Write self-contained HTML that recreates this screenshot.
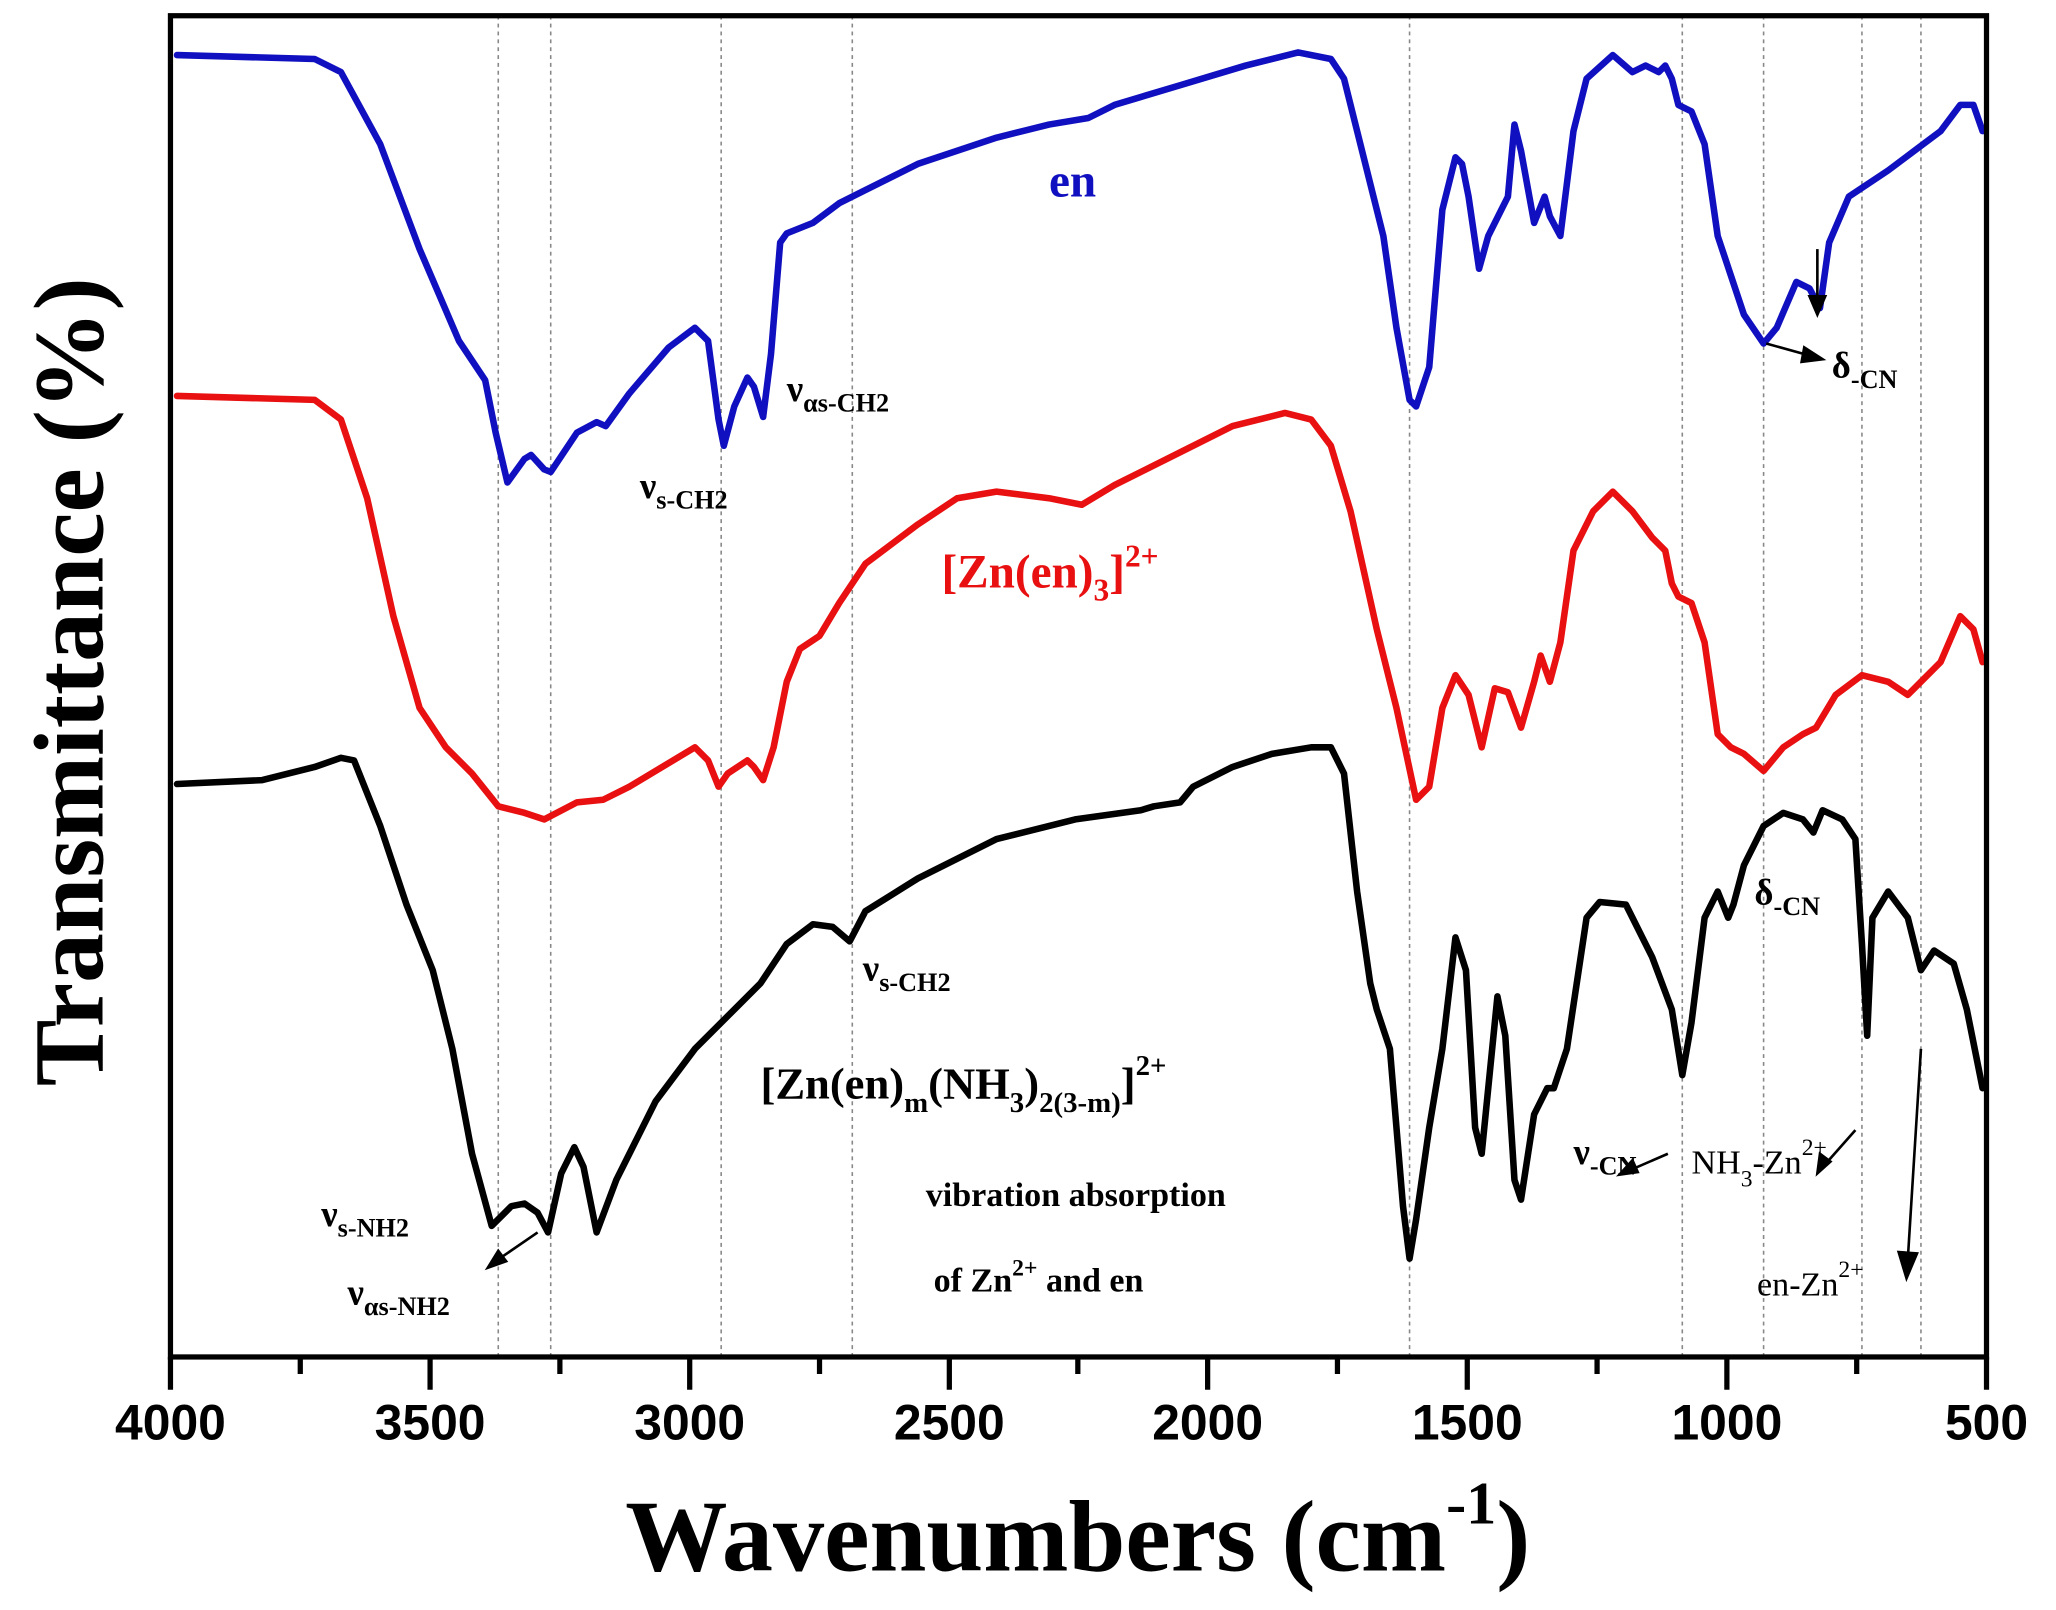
<!DOCTYPE html>
<html><head><style>html,body{margin:0;padding:0;background:#fff}svg{display:block}</style></head>
<body>
<svg width="2056" height="1610" viewBox="0 0 1568 1228" preserveAspectRatio="none" xmlns="http://www.w3.org/2000/svg">
<rect width="1568" height="1228" fill="#fff"/>
<g stroke="#888" stroke-width="1.2" stroke-dasharray="3,3">
<line x1="380" y1="12" x2="380" y2="1035"/><line x1="420" y1="12" x2="420" y2="1035"/>
<line x1="550" y1="12" x2="550" y2="1035"/><line x1="650" y1="12" x2="650" y2="1035"/>
<line x1="1075" y1="12" x2="1075" y2="1035"/><line x1="1283" y1="12" x2="1283" y2="1035"/>
<line x1="1345" y1="12" x2="1345" y2="1035"/><line x1="1420" y1="12" x2="1420" y2="1035"/>
<line x1="1465" y1="12" x2="1465" y2="1035"/>
</g>
<g fill="none" stroke-width="5" stroke-linejoin="round" stroke-linecap="round">
<polyline stroke="#1010c0" points="135,42 240,45 260,55 290,110 320,190 350,260 370,290 378,330 387,368 400,350 405,347 415,358 420,360 440,330 455,322 462,325 480,300 510,265 530,250 540,260 548,320 552,340 560,310 570,288 575,295 582,318 588,270 595,185 600,178 620,170 640,155 660,145 700,125 760,105 800,95 830,90 850,80 900,65 950,50 990,40 1015,45 1025,60 1040,120 1055,180 1065,250 1075,305 1080,310 1090,280 1100,160 1110,120 1115,125 1120,150 1128,205 1135,180 1145,160 1150,150 1155,95 1160,115 1170,170 1178,150 1182,165 1190,180 1200,100 1210,60 1230,42 1245,55 1255,50 1265,55 1270,50 1275,60 1280,80 1290,85 1300,110 1310,180 1330,240 1345,262 1355,250 1370,215 1380,220 1388,235 1395,185 1410,150 1440,130 1460,115 1480,100 1495,80 1505,80 1512,100"/>
<polyline stroke="#e81010" points="135,302 240,305 260,320 280,380 300,470 320,540 340,570 360,590 380,615 400,620 415,625 440,612 460,610 480,600 530,570 540,580 548,600 555,590 570,580 575,585 582,595 590,570 600,520 610,495 625,485 640,460 660,430 700,400 730,380 760,375 800,380 825,385 850,370 900,345 940,325 980,315 1000,320 1015,340 1030,390 1050,480 1065,540 1080,610 1090,600 1100,540 1110,515 1120,530 1130,570 1140,525 1150,528 1160,555 1170,520 1175,500 1182,520 1190,490 1200,420 1215,390 1230,375 1245,390 1260,410 1270,420 1275,445 1280,455 1290,460 1300,490 1310,560 1320,570 1330,575 1345,588 1360,570 1375,560 1385,555 1400,530 1420,515 1440,520 1455,530 1460,525 1480,505 1495,470 1505,480 1512,505"/>
<polyline stroke="#000" points="135,598 200,595 240,585 260,578 270,580 290,630 310,690 330,740 345,800 360,880 375,935 390,920 400,918 410,925 418,940 428,895 438,875 445,890 455,940 470,900 480,880 500,840 530,800 560,770 580,750 600,720 620,705 635,707 648,718 660,695 700,670 760,640 820,625 870,618 880,615 900,612 910,600 940,585 970,575 1000,570 1015,570 1025,590 1035,680 1045,750 1050,770 1060,800 1070,920 1075,960 1080,930 1090,860 1100,800 1110,715 1118,740 1125,860 1130,880 1138,800 1142,760 1148,790 1155,900 1160,915 1170,850 1180,830 1185,830 1195,800 1210,700 1220,688 1240,690 1260,730 1275,770 1283,820 1290,780 1300,700 1310,680 1318,700 1322,690 1330,660 1345,630 1360,620 1375,625 1383,635 1390,618 1405,625 1415,640 1420,720 1424,790 1428,700 1440,680 1455,700 1465,740 1475,725 1490,735 1500,770 1512,830"/>
</g>
<rect x="130" y="12" width="1385" height="1023" fill="none" stroke="#000" stroke-width="4"/>
<g stroke="#000" stroke-width="4">
<line x1="130" y1="1035" x2="130" y2="1060"/><line x1="328" y1="1035" x2="328" y2="1060"/><line x1="526" y1="1035" x2="526" y2="1060"/><line x1="724" y1="1035" x2="724" y2="1060"/><line x1="921" y1="1035" x2="921" y2="1060"/><line x1="1119" y1="1035" x2="1119" y2="1060"/><line x1="1317" y1="1035" x2="1317" y2="1060"/><line x1="1515" y1="1035" x2="1515" y2="1060"/>
<line x1="229" y1="1035" x2="229" y2="1048"/><line x1="427" y1="1035" x2="427" y2="1048"/><line x1="625" y1="1035" x2="625" y2="1048"/><line x1="822" y1="1035" x2="822" y2="1048"/><line x1="1020" y1="1035" x2="1020" y2="1048"/><line x1="1218" y1="1035" x2="1218" y2="1048"/><line x1="1416" y1="1035" x2="1416" y2="1048"/>
</g>
<g font-family="Liberation Sans, sans-serif" font-weight="bold" font-size="38" text-anchor="middle">
<text x="130" y="1098">4000</text><text x="328" y="1098">3500</text><text x="526" y="1098">3000</text><text x="724" y="1098">2500</text><text x="921" y="1098">2000</text><text x="1119" y="1098">1500</text><text x="1317" y="1098">1000</text><text x="1515" y="1098">500</text>
</g>
<g font-family="Liberation Serif, serif" font-weight="bold">
<text x="822" y="1198" font-size="78" text-anchor="middle">Wavenumbers (cm<tspan font-size="46" dy="-36">-1</tspan><tspan dy="36">)</tspan></text>
<text transform="translate(78,520) rotate(-90)" font-size="76" text-anchor="middle">Transmittance (%)</text>
<text x="818" y="150" font-size="36" fill="#1010c0" text-anchor="middle">en</text>
<text x="718" y="448" font-size="36" fill="#e81010">[Zn(en)<tspan font-size="24" dy="10">3</tspan><tspan dy="-10">]</tspan><tspan font-size="24" dy="-16">2+</tspan></text>
<text x="580" y="838" font-size="34">[Zn(en)<tspan font-size="22" dy="10">m</tspan><tspan dy="-10">(NH</tspan><tspan font-size="22" dy="10">3</tspan><tspan dy="-10">)</tspan><tspan font-size="22" dy="10">2(3-m)</tspan><tspan dy="-10">]</tspan><tspan font-size="22" dy="-18">2+</tspan></text>
<g font-size="28">
<text x="600" y="306">ν<tspan font-size="20" dy="8">αs-CH2</tspan></text>
<text x="488" y="380">ν<tspan font-size="20" dy="8">s-CH2</tspan></text>
<text x="658" y="748">ν<tspan font-size="20" dy="8">s-CH2</tspan></text>
<text x="245" y="935">ν<tspan font-size="20" dy="8">s-NH2</tspan></text>
<text x="265" y="995">ν<tspan font-size="20" dy="8">αs-NH2</tspan></text>
<text x="1397" y="288">δ<tspan font-size="20" dy="8">-CN</tspan></text>
<text x="1338" y="690">δ<tspan font-size="20" dy="8">-CN</tspan></text>
<text x="1200" y="888">ν<tspan font-size="20" dy="8">-CN</tspan></text>
</g>
<g font-size="26" font-weight="normal">
<text x="1290" y="895">NH<tspan font-size="18" dy="10">3</tspan><tspan dy="-10">-Zn</tspan><tspan font-size="18" dy="-14">2+</tspan></text>
<text x="1340" y="988">en-Zn<tspan font-size="18" dy="-14">2+</tspan></text>
</g>
<text x="706" y="920" font-size="26">vibration absorption</text>
<text x="712" y="985" font-size="26">of Zn<tspan font-size="18" dy="-12">2+</tspan><tspan dy="12"> and en</tspan></text>
</g>
<g stroke="#000" stroke-width="2" fill="#000">
<line x1="1347" y1="262" x2="1383" y2="272"/><polygon points="1390,274 1376,265 1374,276"/>
<line x1="1386" y1="190" x2="1386" y2="230"/><polygon points="1386,240 1380,226 1392,226"/>
<line x1="410" y1="940" x2="378" y2="962"/><polygon points="372,967 380,954 386,962"/>
<line x1="1272" y1="880" x2="1242" y2="893"/><polygon points="1235,896 1245,885 1249,894"/>
<line x1="1415" y1="862" x2="1392" y2="888"/><polygon points="1386,895 1388,880 1396,886"/>
<line x1="1465" y1="800" x2="1455" y2="960"/><polygon points="1454,975 1448,955 1462,956"/>
</g>
</svg>
</body></html>
